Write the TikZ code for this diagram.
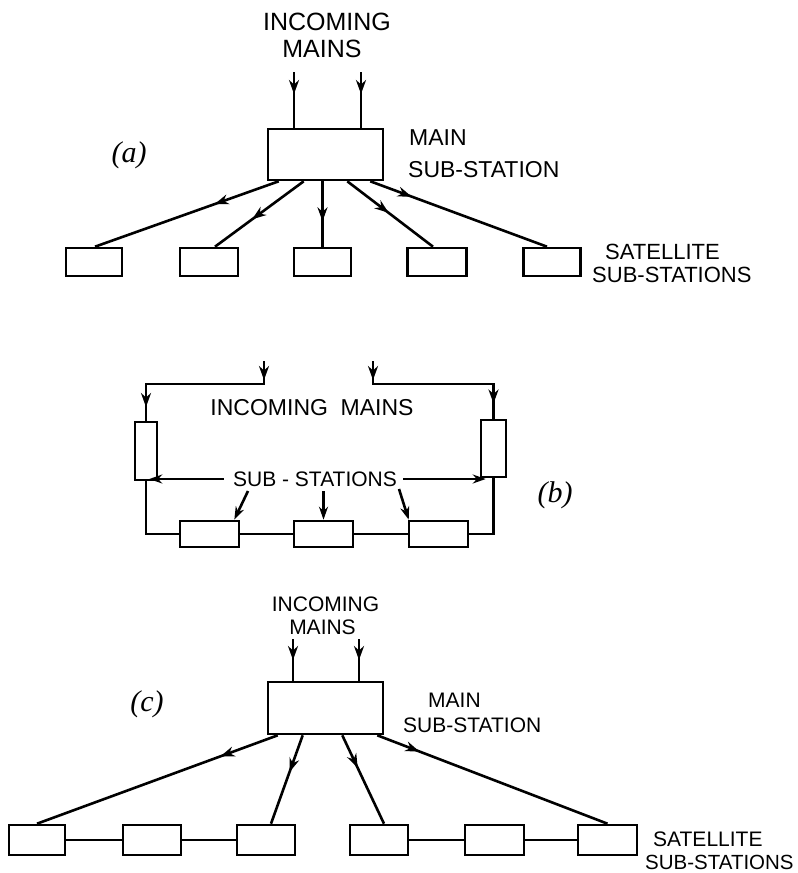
\documentclass[tikz,border=0pt]{standalone}
\usepackage{fontspec}
\newfontfamily\labfont{Liberation Sans}
\newfontfamily\itfont{Liberation Serif}
\usetikzlibrary{arrows.meta,decorations.markings}
\begin{document}
\begin{tikzpicture}[x=1pt,y=-1pt,
  ln/.style={line width=2.6pt},
  box/.style n args={2}{draw,line width=2.6pt,inner sep=0pt,minimum width=#1pt,minimum height=#2pt},
  arrat/.style={postaction={decorate,decoration={markings,mark=at position #1 with {\arrow{Stealth[length=14pt,width=10pt]}}}}},
  tipend/.style={-{Stealth[length=13pt,width=9pt]}},
  txt/.style={font=\labfont\fontsize{#1}{#1}\selectfont,inner sep=0pt},
  lbl/.style={font=\itfont\itshape\fontsize{30}{30}\selectfont,inner sep=0pt}
]
\useasboundingbox (0,0) rectangle (798,873);

% ---------------- (a)
\node[box={115}{51}] (Ma) at (325.5,154.5) {};
\node[box={56}{28}] (a1) at (94,262) {};
\node[box={58}{28}] (a2) at (209,262) {};
\node[box={57}{28}] (a3) at (322.5,262) {};
\node[box={59}{28}] (a4) at (437,262) {};
\node[box={57}{28}] (a5) at (552,262) {};
\coordinate (ia1) at (294,72);
\coordinate (ia2) at (361,72);
\draw[ln,arrat=22pt] (ia1) -- (ia1 |- Ma.north);
\draw[ln,arrat=22pt] (ia2) -- (ia2 |- Ma.north);
\draw[ln,arrat=68pt] ([xshift=12pt]Ma.south west) -- ([xshift=1pt]a1.north);
\draw[ln,arrat=64pt] ([xshift=37pt]Ma.south west) -- ([xshift=6pt]a2.north);
\draw[ln,arrat=40pt] (a3.north |- Ma.south) -- (a3.north);
\draw[ln,arrat=52pt] ([xshift=-37pt]Ma.south east) -- ([xshift=-4pt]a4.north);
\draw[ln,arrat=44pt] ([xshift=-14pt]Ma.south east) -- ([xshift=-5pt]a5.north);

\node[txt=25] (inca) at (327,22) {INCOMING};
\node[txt=25] (mainsa) at (322,49) {MAINS};
\node[lbl] (la) at (129,155) {(a)};
\node[txt=23,anchor=west] (mna) at (409,138) {MAIN};
\node[txt=23,anchor=west] (msa) at (408,170) {SUB-STATION};
\node[txt=22,anchor=west] (sata) at (605,252) {SATELLITE};
\node[txt=22,anchor=west] (ssa) at (592,275) {SUB-STATIONS};

% ---------------- (b)
\node[box={22}{58}] (Lb) at (146,451) {};
\node[box={25}{57}] (Rb) at (493.5,448.5) {};
\node[box={59}{26}] (b1) at (209.5,534) {};
\node[box={59}{26}] (b2) at (323.5,534) {};
\node[box={59}{26}] (b3) at (438.5,534) {};
\coordinate (ib1) at (264,361);
\coordinate (ib2) at (373,361);
\draw[ln,arrat=19pt,arrat=164pt] (ib1) -- ++(0,23) -| (Lb.north);
\draw[ln,arrat=19pt,arrat=163pt] (ib2) -- ++(0,23) -| (Rb.north);
\draw[ln] (Lb.south) |- (b1.west);
\draw[ln] (b1.east) -- (b2.west);
\draw[ln] (b2.east) -- (b3.west);
\draw[ln] (b3.east) -| (Rb.south);

\node[txt=23] (incb) at (312,408) {INCOMING\hspace{0.55em}MAINS};
\node[txt=21] (subs) at (315,479) {SUB - STATIONS};
\node[lbl] (lb) at (555,495) {(b)};
\draw[ln,tipend] ([xshift=-9pt]subs.west) -- ([xshift=-9pt]subs.west -| Lb.east);
\draw[ln,tipend] ([xshift=6pt]subs.east) -- ([xshift=6pt]subs.east -| Rb.west);
\coordinate (s1) at (248,491);
\coordinate (s2) at (323.5,491);
\coordinate (s3) at (399,489);
\draw[ln,tipend] (s1) -- ([xshift=-6pt]b1.north east);
\draw[ln,tipend] (s2) -- (b2.north);
\draw[ln,tipend] (s3) -- ([xshift=1pt]b3.north west);

% ---------------- (c)
\node[box={115}{52}] (Mc) at (325.5,708) {};
\node[box={56}{30}] (c1) at (37,840) {};
\node[box={58}{30}] (c2) at (152,840) {};
\node[box={58}{30}] (c3) at (266,840) {};
\node[box={58}{30}] (c4) at (379,840) {};
\node[box={59}{30}] (c5) at (494.5,840) {};
\node[box={59}{30}] (c6) at (607.5,840) {};
\coordinate (ic1) at (293,639);
\coordinate (ic2) at (359,639);
\draw[ln,arrat=21pt] (ic1) -- (ic1 |- Mc.north);
\draw[ln,arrat=21pt] (ic2) -- (ic2 |- Mc.north);
\draw[ln,arrat=61pt] ([xshift=11pt]Mc.south west) -- (c1.north);
\draw[ln,arrat=39pt] ([xshift=36pt]Mc.south west) -- ([xshift=5pt]c3.north);
\draw[ln,arrat=36pt] ([xshift=-42pt]Mc.south east) -- ([xshift=5pt]c4.north);
\draw[ln,arrat=45pt] ([xshift=-7pt]Mc.south east) -- (c6.north);
\draw[ln] (c1.east) -- (c2.west);
\draw[ln] (c2.east) -- (c3.west);
\draw[ln] (c4.east) -- (c5.west);
\draw[ln] (c5.east) -- (c6.west);

\node[txt=21] (incc) at (325.5,604) {INCOMING};
\node[txt=21] (mainsc) at (322.5,627) {MAINS};
\node[lbl] (lc) at (147,704) {(c)};
\node[txt=21,anchor=west] (mnc) at (428,700) {MAIN};
\node[txt=21,anchor=west] (msc) at (403,725) {SUB-STATION};
\node[txt=21,anchor=west] (satc) at (653,839) {SATELLITE};
\node[txt=20.5,anchor=west] (ssc) at (645,862) {SUB-STATIONS};
\end{tikzpicture}
\end{document}
